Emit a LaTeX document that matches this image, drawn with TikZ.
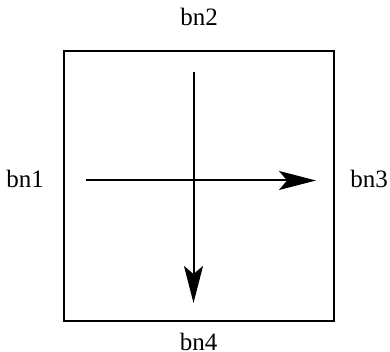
\documentclass[tikz,border=0pt]{standalone}
\usepackage{fontspec}
\setmainfont{Liberation Serif}
\usetikzlibrary{arrows.meta}
\begin{document}
\begin{tikzpicture}[x=1pt,y=1pt,
  lbl/.style={font=\fontsize{25}{30}\selectfont, inner sep=0pt},
  arr/.style={line width=2pt, -{Stealth[length=37pt,width=19pt,inset=8pt]}}]
\useasboundingbox (0,0) rectangle (390,352);
\node[draw, line width=2.2pt, minimum width=270pt, minimum height=270pt, inner sep=0pt] (box) at (199,166) {};
\node[lbl] (bn1) at (25,173.5) {bn1};
\node[lbl] (bn3) at (369,173.5) {bn3};
\node[lbl] (bn2) at (199,335.5) {bn2};
\node[lbl] (bn4) at (198.5,10) {bn4};
\coordinate (hs) at (86,171.5);
\coordinate (he) at (316,171.5);
\coordinate (vs) at (193.5,280);
\coordinate (ve) at (193.5,49);
\draw[arr] (hs) -- (he);
\draw[arr] (vs) -- (ve);
\end{tikzpicture}
\end{document}
